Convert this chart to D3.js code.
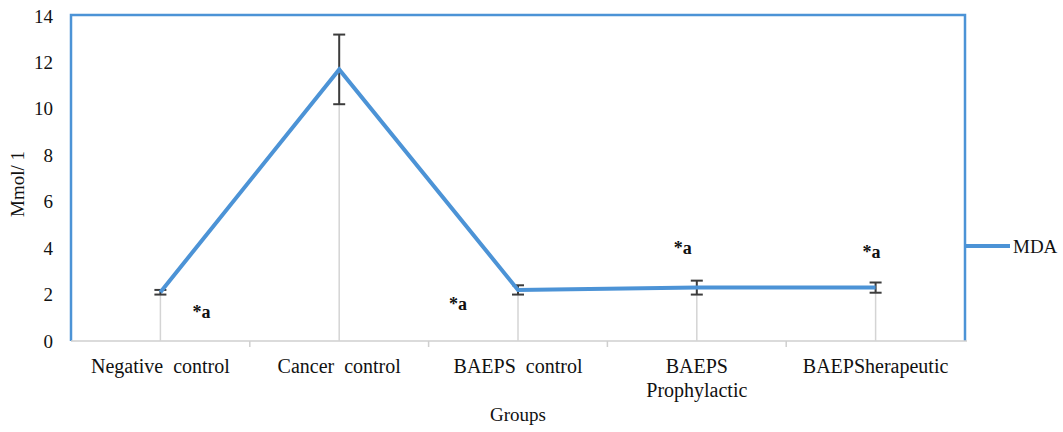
<!DOCTYPE html>
<meta charset="utf-8">
<head>
<script src="https://d3js.org/d3.v7.min.js"></script>
<style>
  body { margin: 0; background: #fff; }
  text { font-family: "Liberation Serif", "Times New Roman", serif; fill: #111; }
</style>
</head>
<body>
<div class="viz"></div>
<script>
// data
var groups = ["Negative  control", "Cancer  control", "BAEPS  control", "BAEPS\nProphylactic", "BAEPSherapeutic"];
var mda = [2.1, 11.7, 2.2, 2.3, 2.3];
var mdaErr = [0.1, 1.5, 0.2, 0.3, 0.22];
var yTicks = [0, 2, 4, 6, 8, 10, 12, 14];
var marks = ["*a", "", "*a", "*a", "*a"];

var width = 1063, height = 432;
var plotL = 71, plotR = 965, plotT = 15, plotB = 341;
var blue = "#4c93d6";

var svg = d3.select("div.viz").append("svg")
    .attr("width", width)
    .attr("height", height);

var x = d3.scaleBand().domain(groups).range([plotL, plotR]);
var y = d3.scaleLinear().domain([0, 14]).range([plotB, plotT + 1]);

// frame (top, left, right)
svg.append("path")
    .attr("d", "M" + plotL + "," + plotB + "V" + plotT + "H" + plotR + "V" + plotB)
    .attr("fill", "none")
    .attr("stroke", blue)
    .attr("stroke-width", 2.5);

// x axis
var xAxis = svg.append("g").attr("transform", "translate(0," + plotB + ")");
xAxis.append("line").attr("x1", plotL).attr("x2", plotR + 2)
    .attr("stroke", "#cfcfcf").attr("stroke-width", 1.5);
xAxis.selectAll("line.tick")
    .data(groups.slice(1))
    .enter().append("line")
    .attr("class", "tick")
    .attr("x1", function(d) { return x(d); })
    .attr("x2", function(d) { return x(d); })
    .attr("y1", 0).attr("y2", 6)
    .attr("stroke", "#cfcfcf").attr("stroke-width", 1.5);

var xl = xAxis.selectAll("text.lab")
    .data(groups)
    .enter().append("text")
    .attr("class", "lab")
    .attr("text-anchor", "middle")
    .attr("font-size", 20)
    .style("white-space", "pre")
    .attr("transform", function(d) { return "translate(" + (x(d) + x.bandwidth() / 2) + ",32)"; });
xl.selectAll("tspan")
    .data(function(d) { return d.split("\n"); })
    .enter().append("tspan")
    .attr("x", 0)
    .attr("dy", function(d, i) { return i ? 24 : 0; })
    .text(function(d) { return d; });

svg.append("text")
    .attr("x", (plotL + plotR) / 2)
    .attr("y", 421)
    .attr("text-anchor", "middle")
    .attr("font-size", 19)
    .text("Groups");

// y axis labels
svg.selectAll("text.ytick")
    .data(yTicks)
    .enter().append("text")
    .attr("class", "ytick")
    .attr("x", 53)
    .attr("y", function(d) { return y(d) + 6.5; })
    .attr("text-anchor", "end")
    .attr("font-size", 19)
    .text(function(d) { return d; });

svg.append("text")
    .attr("transform", "translate(24,184) rotate(-90)")
    .attr("text-anchor", "middle")
    .attr("font-size", 19)
    .text("Mmol/ 1");

// drop lines
var cx = function(i) { return x(groups[i]) + x.bandwidth() / 2; };
svg.selectAll("line.drop")
    .data(mda)
    .enter().append("line")
    .attr("class", "drop")
    .attr("x1", function(d, i) { return cx(i); })
    .attr("x2", function(d, i) { return cx(i); })
    .attr("y1", function(d) { return y(d); })
    .attr("y2", plotB)
    .attr("stroke", "#d4d4d4").attr("stroke-width", 1.5);

// error bars
var eb = svg.selectAll("g.err")
    .data(mda)
    .enter().append("g")
    .attr("class", "err")
    .attr("stroke", "#3c3c3c")
    .attr("stroke-width", 2);
eb.append("line")
    .attr("x1", function(d, i) { return cx(i); })
    .attr("x2", function(d, i) { return cx(i); })
    .attr("y1", function(d, i) { return y(d + mdaErr[i]); })
    .attr("y2", function(d, i) { return y(d - mdaErr[i]); });
[1, -1].forEach(function(s) {
    eb.append("line")
        .attr("x1", function(d, i) { return cx(i) - 6; })
        .attr("x2", function(d, i) { return cx(i) + 6; })
        .attr("y1", function(d, i) { return y(d + s * mdaErr[i]); })
        .attr("y2", function(d, i) { return y(d + s * mdaErr[i]); });
});

// series line
var line = d3.line()
    .x(function(d, i) { return cx(i); })
    .y(function(d) { return y(d); });
svg.append("path")
    .datum(mda)
    .attr("d", line)
    .attr("fill", "none")
    .attr("stroke", blue)
    .attr("stroke-width", 4)
    .attr("stroke-linejoin", "miter");

// significance marks
var markOffset = [[41, -0.85], [0, 0], [-60, -0.6], [-14, 1.7], [-4, 1.55]];
svg.selectAll("text.mark")
    .data(marks)
    .enter().append("text")
    .attr("class", "mark")
    .attr("x", function(d, i) { return cx(i) + markOffset[i][0]; })
    .attr("y", function(d, i) { return y(mda[i] + markOffset[i][1]) + 6; })
    .attr("text-anchor", "middle")
    .attr("font-size", 18)
    .attr("font-weight", "bold")
    .text(function(d) { return d; });

// legend
svg.append("line")
    .attr("x1", plotR).attr("x2", 1010)
    .attr("y1", 246).attr("y2", 246)
    .attr("stroke", blue).attr("stroke-width", 4);
svg.append("text")
    .attr("x", 1013).attr("y", 253)
    .attr("font-size", 19)
    .text("MDA");
</script>
</body>
